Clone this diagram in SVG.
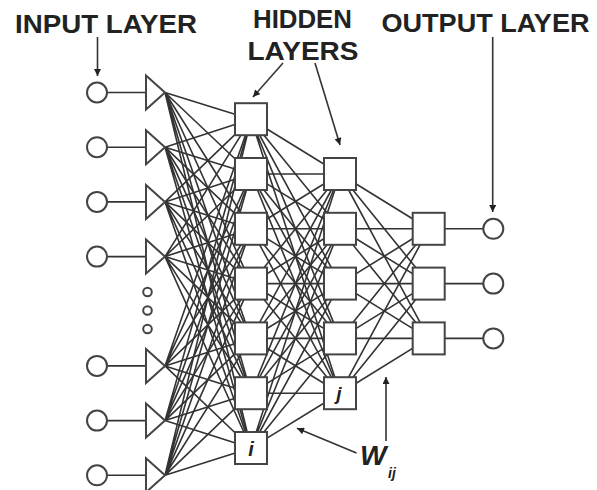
<svg xmlns="http://www.w3.org/2000/svg" width="597" height="490" viewBox="0 0 597 490">
<defs>
<style>
.lbl{font-family:"Liberation Sans",Arial,sans-serif;font-weight:bold;fill:#222;}
.it{font-family:"Liberation Sans",Arial,sans-serif;font-weight:bold;font-style:italic;fill:#222;}
.conn path{fill:none;stroke:#333;stroke-width:1.6;}
.arr{fill:none;stroke:#333;stroke-width:1.6;}
.node circle,.node rect,.node polygon{fill:#fff;stroke:#444;stroke-width:2;}
.node line{stroke:#333;stroke-width:1.6;}
</style>
<marker id="ah" viewBox="0 0 10 10" refX="10" refY="5" markerWidth="8" markerHeight="7" markerUnits="userSpaceOnUse" orient="auto">
<path d="M0 0L10 5L0 10z" fill="#222"/>
</marker>
</defs>
<rect width="597" height="490" fill="#fff"/>

<g id="connectors" class="conn">
<path d="M165 92.5L251 119.2M165 92.5L251 174M165 92.5L251 228.8M165 92.5L251 283.6M165 92.5L251 338.4M165 92.5L251 393.2M165 92.5L251 448"/>
<path d="M165 147.2L251 119.2M165 147.2L251 174M165 147.2L251 228.8M165 147.2L251 283.6M165 147.2L251 338.4M165 147.2L251 393.2M165 147.2L251 448"/>
<path d="M165 201.9L251 119.2M165 201.9L251 174M165 201.9L251 228.8M165 201.9L251 283.6M165 201.9L251 338.4M165 201.9L251 393.2M165 201.9L251 448"/>
<path d="M165 256.6L251 119.2M165 256.6L251 174M165 256.6L251 228.8M165 256.6L251 283.6M165 256.6L251 338.4M165 256.6L251 393.2M165 256.6L251 448"/>
<path d="M165 365.9L251 119.2M165 365.9L251 174M165 365.9L251 228.8M165 365.9L251 283.6M165 365.9L251 338.4M165 365.9L251 393.2M165 365.9L251 448"/>
<path d="M165 420.6L251 119.2M165 420.6L251 174M165 420.6L251 228.8M165 420.6L251 283.6M165 420.6L251 338.4M165 420.6L251 393.2M165 420.6L251 448"/>
<path d="M165 475.3L251 119.2M165 475.3L251 174M165 475.3L251 228.8M165 475.3L251 283.6M165 475.3L251 338.4M165 475.3L251 393.2M165 475.3L251 448"/>

<path d="M251 119.2L340 174M251 119.2L340 228.8M251 119.2L340 283.6M251 119.2L340 338.4M251 119.2L340 393.2"/>
<path d="M251 174L340 174M251 174L340 228.8M251 174L340 283.6M251 174L340 338.4M251 174L340 393.2"/>
<path d="M251 228.8L340 174M251 228.8L340 228.8M251 228.8L340 283.6M251 228.8L340 338.4M251 228.8L340 393.2"/>
<path d="M251 283.6L340 174M251 283.6L340 228.8M251 283.6L340 283.6M251 283.6L340 338.4M251 283.6L340 393.2"/>
<path d="M251 338.4L340 174M251 338.4L340 228.8M251 338.4L340 283.6M251 338.4L340 338.4M251 338.4L340 393.2"/>
<path d="M251 393.2L340 174M251 393.2L340 228.8M251 393.2L340 283.6M251 393.2L340 338.4M251 393.2L340 393.2"/>
<path d="M251 448L340 174M251 448L340 228.8M251 448L340 283.6M251 448L340 338.4M251 448L340 393.2"/>

<path d="M340 174L428.7 228.8M340 174L428.7 283.6M340 174L428.7 338.4"/>
<path d="M340 228.8L428.7 228.8M340 228.8L428.7 283.6M340 228.8L428.7 338.4"/>
<path d="M340 283.6L428.7 228.8M340 283.6L428.7 283.6M340 283.6L428.7 338.4"/>
<path d="M340 338.4L428.7 228.8M340 338.4L428.7 283.6M340 338.4L428.7 338.4"/>
<path d="M340 393.2L428.7 228.8M340 393.2L428.7 283.6M340 393.2L428.7 338.4"/>

<path d="M445 228.8H483M445 283.6H483M445 338.4H483"/>
</g>

<g id="input-layer">
<g id="in1" class="node"><line x1="107" y1="92.5" x2="146" y2="92.5"/><circle cx="97" cy="92.5" r="10"/><polygon points="146,75.5 146,109.5 165,92.5"/></g>
<g id="in2" class="node"><line x1="107" y1="147.2" x2="146" y2="147.2"/><circle cx="97" cy="147.2" r="10"/><polygon points="146,130.2 146,164.2 165,147.2"/></g>
<g id="in3" class="node"><line x1="107" y1="201.9" x2="146" y2="201.9"/><circle cx="97" cy="201.9" r="10"/><polygon points="146,184.9 146,218.9 165,201.9"/></g>
<g id="in4" class="node"><line x1="107" y1="256.6" x2="146" y2="256.6"/><circle cx="97" cy="256.6" r="10"/><polygon points="146,239.6 146,273.6 165,256.6"/></g>
<g id="in-ellipsis" class="node"><circle cx="147.5" cy="292" r="4.3"/><circle cx="147.5" cy="310.5" r="4.3"/><circle cx="147.5" cy="329" r="4.3"/></g>
<g id="in5" class="node"><line x1="107" y1="365.9" x2="146" y2="365.9"/><circle cx="97" cy="365.9" r="10"/><polygon points="146,348.9 146,382.9 165,365.9"/></g>
<g id="in6" class="node"><line x1="107" y1="420.6" x2="146" y2="420.6"/><circle cx="97" cy="420.6" r="10"/><polygon points="146,403.6 146,437.6 165,420.6"/></g>
<g id="in7" class="node"><line x1="107" y1="475.3" x2="146" y2="475.3"/><circle cx="97" cy="475.3" r="10"/><polygon points="146,458.3 146,492.3 165,475.3"/></g>
</g>

<g id="hidden-layer-1">
<g id="h1-1" class="node"><rect x="235" y="103.2" width="32" height="32"/></g>
<g id="h1-2" class="node"><rect x="235" y="158" width="32" height="32"/></g>
<g id="h1-3" class="node"><rect x="235" y="212.8" width="32" height="32"/></g>
<g id="h1-4" class="node"><rect x="235" y="267.6" width="32" height="32"/></g>
<g id="h1-5" class="node"><rect x="235" y="322.4" width="32" height="32"/></g>
<g id="h1-6" class="node"><rect x="235" y="377.2" width="32" height="32"/></g>
<g id="h1-i" class="node"><rect x="235" y="432" width="32" height="32"/><text class="it" x="251" y="456" font-size="20" text-anchor="middle">i</text></g>
</g>

<g id="hidden-layer-2">
<g id="h2-1" class="node"><rect x="324" y="158" width="32" height="32"/></g>
<g id="h2-2" class="node"><rect x="324" y="212.8" width="32" height="32"/></g>
<g id="h2-3" class="node"><rect x="324" y="267.6" width="32" height="32"/></g>
<g id="h2-4" class="node"><rect x="324" y="322.4" width="32" height="32"/></g>
<g id="h2-j" class="node"><rect x="324" y="377.2" width="32" height="32"/><text class="it" x="339" y="400" font-size="19" text-anchor="middle">j</text></g>
</g>

<g id="output-layer">
<g id="out1" class="node"><rect x="412.7" y="212.8" width="32" height="32"/><circle cx="493.3" cy="228.8" r="10"/></g>
<g id="out2" class="node"><rect x="412.7" y="267.6" width="32" height="32"/><circle cx="493.3" cy="283.6" r="10"/></g>
<g id="out3" class="node"><rect x="412.7" y="322.4" width="32" height="32"/><circle cx="493.3" cy="338.4" r="10"/></g>
</g>

<g id="labels">
<text class="lbl" x="15" y="33" font-size="25.5" textLength="182" lengthAdjust="spacingAndGlyphs">INPUT LAYER</text>
<text class="lbl" x="253" y="28.3" font-size="25.5" textLength="99" lengthAdjust="spacingAndGlyphs">HIDDEN</text>
<text class="lbl" x="247.5" y="60" font-size="25.5" textLength="111" lengthAdjust="spacingAndGlyphs">LAYERS</text>
<text class="lbl" x="381.5" y="31.7" font-size="25.5" textLength="208" lengthAdjust="spacingAndGlyphs">OUTPUT LAYER</text>
<text class="it" x="360" y="465" font-size="28">W</text>
<text class="it" x="388" y="478" font-size="14">ij</text>
</g>

<g id="annotation-arrows">
<line class="arr" x1="97.5" y1="37" x2="97.5" y2="76" marker-end="url(#ah)"/>
<line class="arr" x1="283" y1="63" x2="253" y2="97" marker-end="url(#ah)"/>
<line class="arr" x1="315" y1="63" x2="340" y2="145" marker-end="url(#ah)"/>
<line class="arr" x1="492.7" y1="37" x2="492.7" y2="212" marker-end="url(#ah)"/>
<line class="arr" x1="356.5" y1="453" x2="297" y2="428.3" marker-end="url(#ah)"/>
<line class="arr" x1="386" y1="441" x2="386" y2="377" marker-end="url(#ah)"/>
</g>
</svg>
